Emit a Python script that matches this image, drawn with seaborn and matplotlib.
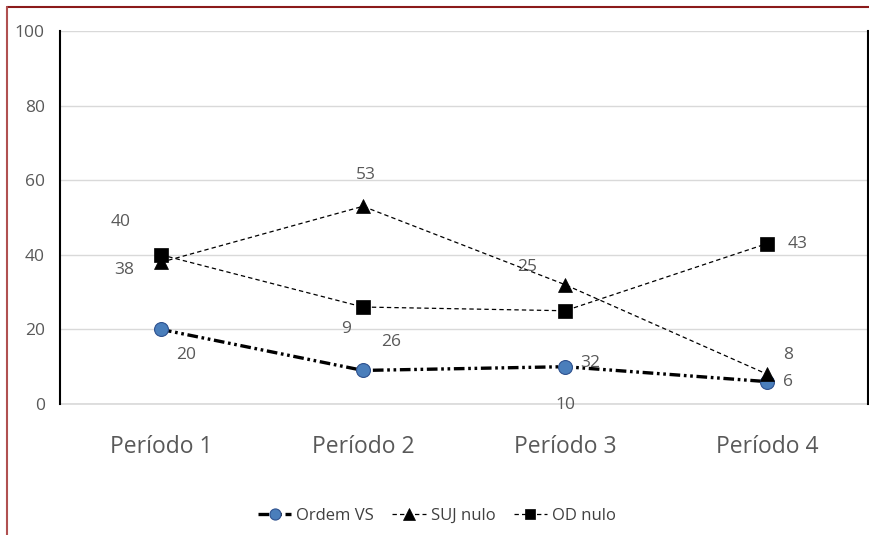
import matplotlib
matplotlib.use("Agg")
import matplotlib.pyplot as plt
from matplotlib.lines import Line2D
import seaborn as sns
import pandas as pd

# Data
categories = ["Período 1", "Período 2", "Período 3", "Período 4"]
ordem_vs = [20, 9, 10, 6]
suj_nulo = [38, 53, 32, 8]
od_nulo = [40, 26, 25, 43]

# Data label texts for each series
label_ordem = ["20", "9", "10", "6"]
label_suj = ["38", "53", "32", "8"]
label_od = ["40", "26", "25", "43"]

sns.set_theme(style="white")
plt.rcParams["font.family"] = ["Open Sans", "DejaVu Sans"]

text_gray = "#595959"
fig = plt.figure(figsize=(8.7, 5.35), dpi=100)
W, H = 870, 535
ax = fig.add_axes([60 / W, 1 - 404 / H, (868 - 60) / W, (404 - 31) / H])

x = list(range(len(categories)))
df = pd.DataFrame({
    "x": x * 3,
    "valor": ordem_vs + suj_nulo + od_nulo,
    "serie": ["Ordem VS"] * 4 + ["SUJ nulo"] * 4 + ["OD nulo"] * 4,
})

styles = {
    "Ordem VS": dict(lw=2.4, dashes=(3.2, 1.1, 0.8, 1.1, 0.8, 1.1), marker="o",
                     ms=10, mfc="#4a7ebb", mec="#2f528f", mew=0.8, z=3),
    "SUJ nulo": dict(lw=0.9, dashes=(3.5, 2.5), marker="^",
                     ms=10, mfc="black", mec="black", mew=0.5, z=4),
    "OD nulo": dict(lw=0.9, dashes=(3.5, 2.5), marker="s",
                    ms=9.5, mfc="black", mec="black", mew=0.5, z=5),
}

handles = []
for name, st in styles.items():
    sub = df[df["serie"] == name]
    sns.lineplot(data=sub, x="x", y="valor", ax=ax, color="black",
                 linewidth=st["lw"], marker=st["marker"], markersize=st["ms"],
                 markerfacecolor=st["mfc"], markeredgecolor=st["mec"],
                 markeredgewidth=st["mew"], zorder=st["z"], legend=False)
    line = ax.lines[-1]
    line.set_dashes(st["dashes"])
    h = Line2D([], [], color="black", linewidth=st["lw"], marker=st["marker"],
               markersize=st["ms"] * 0.8, markerfacecolor=st["mfc"],
               markeredgecolor=st["mec"], markeredgewidth=st["mew"])
    h.set_dashes(st["dashes"])
    handles.append(h)

# Value labels with their offsets in pixels
offs_ordem = [(15, -26), (-17, 41), (0, -38), (16, 0)]
offs_suj = [(-37, -8), (3, 31), (15, -78), (16, 19)]
offs_od = [(-40, 33), (18, -35), (-38, 44), (21, 0)]
for vals, labs, offs in [(ordem_vs, label_ordem, offs_ordem),
                         (suj_nulo, label_suj, offs_suj),
                         (od_nulo, label_od, offs_od)]:
    for xi, v, lab, o in zip(x, vals, labs, offs):
        ax.annotate(lab, (xi, v), xytext=o, textcoords="offset pixels",
                    ha="left" if o[0] > 10 else "center", va="center",
                    fontsize=12.5, color=text_gray, zorder=6)

ax.set_xlim(-0.5, 3.5)
ax.set_ylim(0, 100)
ax.set_yticks(range(0, 101, 20))
ax.set_xticks(x)
ax.set_xticklabels(categories)
ax.set_xlabel("")
ax.set_ylabel("")
ax.tick_params(axis="y", length=0, pad=11, labelsize=12.5, labelcolor=text_gray)
ax.tick_params(axis="x", length=0, pad=22, labelsize=16.5, labelcolor=text_gray)
ax.grid(axis="y", color="#d9d9d9", linewidth=1)
ax.axhline(0, color="#d9d9d9", linewidth=1.2, zorder=0.5, clip_on=False)
ax.set_axisbelow(True)
for s in ["top", "bottom"]:
    ax.spines[s].set_visible(False)
for s in ["left", "right"]:
    ax.spines[s].set_color("black")
    ax.spines[s].set_linewidth(1.5)

fig.legend(handles, ["Ordem VS", "SUJ nulo", "OD nulo"], loc="center",
           bbox_to_anchor=(437 / W, 1 - 516 / H), ncol=3, frameon=False,
           fontsize=12, handlelength=2.0, columnspacing=1.1,
           handletextpad=0.3, labelcolor="#404040")

# Chart area border
fig.add_artist(Line2D([7 / W, 1], [1 - 7 / H, 1 - 7 / H], color="#8b1a1a",
                      linewidth=1.5, transform=fig.transFigure))
fig.add_artist(Line2D([7 / W, 7 / W], [0, 1 - 7 / H], color="#b05050",
                      linewidth=1.5, transform=fig.transFigure))

fig.savefig("out.png", dpi=100)
